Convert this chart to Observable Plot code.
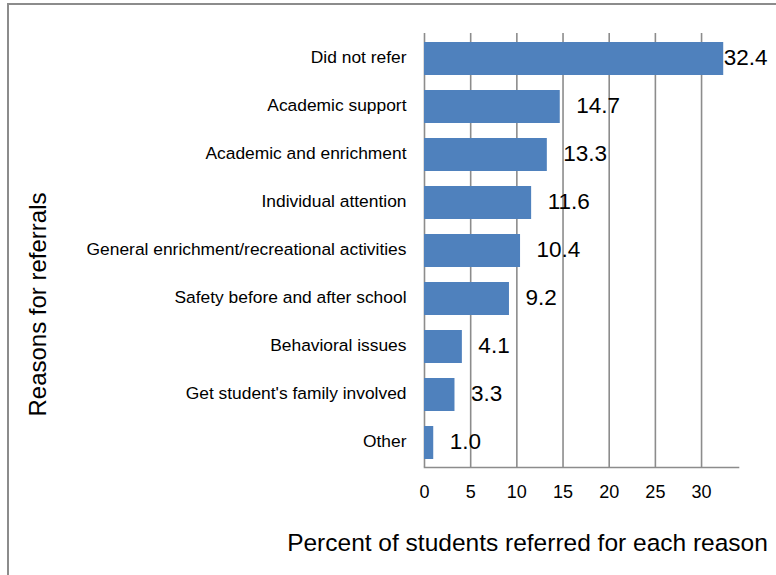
<!DOCTYPE html>
<html>
<head>
<meta charset="utf-8">
<script src="https://cdn.jsdelivr.net/npm/d3@7"></script>
<script src="https://cdn.jsdelivr.net/npm/@observablehq/plot@0.6"></script>
<style>
  html, body { margin: 0; padding: 0; background: #fff; width: 776px; height: 575px; overflow: hidden; }
  #border { position: absolute; left: 7px; top: 3px; width: 800px; height: 620px; border: 2px solid #8c8c8c; box-sizing: border-box; }
  #chart { position: absolute; left: 0; top: 0; }
</style>
</head>
<body>
<div id="border"></div>
<div id="chart"></div>
<script>
const reasons = [
  "Did not refer",
  "Academic support",
  "Academic and enrichment",
  "Individual attention",
  "General enrichment/recreational activities",
  "Safety before and after school",
  "Behavioral issues",
  "Get student's family involved",
  "Other"
];
const percents = [32.4, 14.7, 13.3, 11.6, 10.4, 9.2, 4.1, 3.3, 1.0];
const xTicks = [0, 5, 10, 15, 20, 25, 30];
const yTitle = "Reasons for referrals";
const xTitle = "Percent of students referred for each reason";

const data = reasons.map((r, i) => ({reason: r, value: percents[i]}));
const font = "'Liberation Sans', Arial, sans-serif";

const plot = Plot.plot({
  width: 776,
  height: 575,
  marginLeft: 424,
  marginRight: 38,
  marginTop: 33,
  marginBottom: 108,
  style: {fontFamily: font, background: "transparent", color: "#000"},
  x: {domain: [0, 34], ticks: xTicks},
  y: {domain: reasons, paddingInner: 0.32, paddingOuter: 0.16},
  marks: [
    Plot.ruleX(xTicks, {stroke: "#8c8c8c", strokeWidth: 1.6, strokeOpacity: 1}),
    Plot.frame({anchor: "bottom", stroke: "#8c8c8c", strokeWidth: 1.6}),
    Plot.barX(data, {x: "value", y: "reason", fill: "#4F81BD"}),
    Plot.text(data.filter((d, i) => i === 0), {x: "value", y: "reason", text: d => d.value.toFixed(1), textAnchor: "start", dx: 0, dy: -1.5, fontSize: 22.5, fill: "#000"}),
    Plot.text(data.filter((d, i) => i > 0), {x: "value", y: "reason", text: d => d.value.toFixed(1), textAnchor: "start", dx: 16, dy: -1.5, fontSize: 22.5, fill: "#000"}),
    Plot.axisY({tickSize: 0, tickPadding: 18, fontSize: 17.4, dy: -1.5, label: null}),
    Plot.axisX({ticks: xTicks, tickSize: 0, tickPadding: 18, fontSize: 18, label: null}),
    Plot.text([yTitle], {frameAnchor: "left", rotate: -90, dx: -386, dy: 54, fontSize: 24, textAnchor: "middle", lineAnchor: "middle", fill: "#000"}),
    Plot.text([xTitle], {frameAnchor: "bottom", dx: -54, dy: 76, fontSize: 24.5, textAnchor: "middle", lineAnchor: "middle", fill: "#000"})
  ]
});
document.getElementById("chart").appendChild(plot);
</script>
</body>
</html>
